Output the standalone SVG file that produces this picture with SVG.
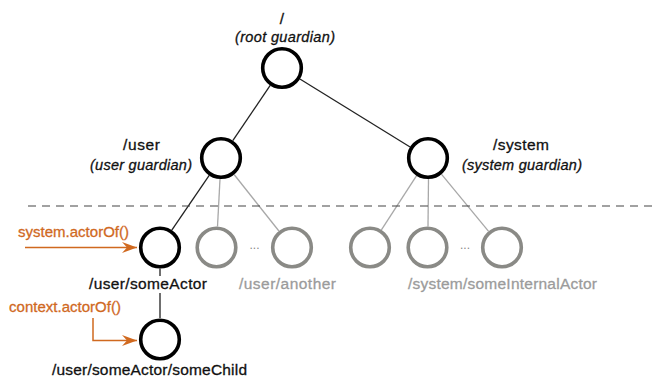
<svg xmlns="http://www.w3.org/2000/svg" width="658" height="377" viewBox="0 0 658 377">
  <defs>
    <style>
      .t { font-family: "Liberation Sans", Arial, sans-serif; font-size: 15.5px; fill: #111; stroke: #111; stroke-width: 0.3; }
      .i { font-style: italic; font-size: 14.5px; }
      .g { fill: #9b9b9b; stroke: #9b9b9b; }
      .o { fill: #d0691f; stroke: #d0691f; font-size: 15px; }
      .n { fill: #fff; stroke: #000; stroke-width: 3.6; }
      .ng { fill: #fff; stroke: #8a8a86; stroke-width: 3.6; }
      .c { stroke: #222; stroke-width: 1.3; fill: none; }
      .cg { stroke: #a8a8a8; stroke-width: 1.3; fill: none; }
      .a { stroke: #d0691f; stroke-width: 1.5; fill: none; marker-end: url(#arr); }
      .dots { font-family: "Liberation Sans", Arial, sans-serif; font-size: 12px; fill: #888; }
    </style>
    <marker id="arr" viewBox="-15 -6 16 12" refX="0" refY="0" markerWidth="16" markerHeight="12" markerUnits="userSpaceOnUse" orient="auto">
      <path d="M0 0 L-15 -5.5 L-10 0 L-15 5.5 Z" fill="#d0691f"/>
    </marker>
  </defs>
  <rect width="658" height="377" fill="#fff"/>

  <g id="connectors">
    <line class="c" x1="270.2" y1="85.4" x2="232.8" y2="140.6"/>
    <line class="c" x1="299.9" y1="79" x2="410.1" y2="147"/>
    <line class="c" x1="209.2" y1="175.3" x2="171.8" y2="230.2"/>
    <line class="cg" x1="220" y1="179" x2="217.5" y2="226.5"/>
    <line class="cg" x1="234.1" y1="174.5" x2="278.9" y2="231"/>
    <line class="cg" x1="416.6" y1="175.6" x2="381.4" y2="229.9"/>
    <line class="cg" x1="428.5" y1="179" x2="428" y2="226.5"/>
    <line class="cg" x1="441.4" y1="174.2" x2="488.6" y2="231.3"/>
    <path class="c" d="M160 268.5 V276 M160 293 V318"/>
    <line x1="28" y1="206" x2="658" y2="206" stroke="#444" stroke-width="1.2" stroke-dasharray="8 6"/>
    <path class="a" d="M25 247.5 H137"/>
    <path class="a" d="M93 318 V340.5 H137"/>
  </g>

  <g id="root">
    <circle class="n" cx="282" cy="68" r="19.3"/>
    <text class="t" x="282" y="24" text-anchor="middle">/</text>
    <text class="t i" x="285" y="42" text-anchor="middle" textLength="100">(root guardian)</text>
  </g>

  <g id="user">
    <circle class="n" cx="221" cy="158" r="19.3"/>
    <text class="t" x="141.5" y="150" text-anchor="middle" textLength="37">/user</text>
    <text class="t i" x="141" y="169.5" text-anchor="middle" textLength="102">(user guardian)</text>
  </g>

  <g id="system">
    <circle class="n" cx="428" cy="158" r="19.3"/>
    <text class="t" x="521" y="150" text-anchor="middle" textLength="56">/system</text>
    <text class="t i" x="522" y="169.5" text-anchor="middle" textLength="120">(system guardian)</text>
  </g>

  <g id="someActor">
    <circle class="n" cx="160" cy="247.5" r="19.3"/>
    <text class="t" x="148" y="289" text-anchor="middle" textLength="118">/user/someActor</text>
  </g>

  <g id="userOther1">
    <circle class="ng" cx="216.5" cy="247.5" r="19.3"/>
  </g>
  <g id="userDots">
    <text class="dots" x="254.5" y="249" text-anchor="middle">...</text>
  </g>
  <g id="userAnother">
    <circle class="ng" cx="292" cy="247.5" r="19.3"/>
    <text class="t g" x="287.5" y="289" text-anchor="middle" textLength="97">/user/another</text>
  </g>

  <g id="sysChild1">
    <circle class="ng" cx="370" cy="247.5" r="19.3"/>
  </g>
  <g id="sysChild2">
    <circle class="ng" cx="427.5" cy="247.5" r="19.3"/>
  </g>
  <g id="sysDots">
    <text class="dots" x="465" y="249" text-anchor="middle">...</text>
  </g>
  <g id="sysChild3">
    <circle class="ng" cx="502" cy="247.5" r="19.3"/>
    <text class="t g" x="502.5" y="289" text-anchor="middle" textLength="189">/system/someInternalActor</text>
  </g>

  <g id="someChild">
    <circle class="n" cx="160" cy="339.5" r="19.3"/>
    <text class="t" x="149.5" y="375" text-anchor="middle" textLength="195">/user/someActor/someChild</text>
  </g>

  <g id="labels">
    <text class="t o" x="18" y="237" textLength="111">system.actorOf()</text>
    <text class="t o" x="9" y="312" textLength="112">context.actorOf()</text>
  </g>
</svg>
